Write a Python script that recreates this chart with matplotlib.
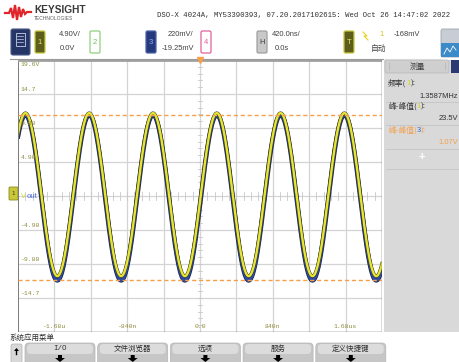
import numpy as np
import matplotlib.pyplot as plt
import matplotlib.patheffects as pe
from matplotlib.patches import Rectangle, FancyBboxPatch, Polygon

# ── screen readout values ──
ch1_scale = 4.90          # V/div
ch1_offset = 0.0
ch3_scale = 0.220         # V/div
ch3_offset = -0.01925
time_scale = 420e-9       # s/div
trig_level = "-168mV"

ch1_freq = 1.3587e6       # Hz
ch1_vpp = 23.5            # V
ch1_mean = 0.2            # V, estimated from the trace
ch3_vpp = 1.07            # V
ch3_mean = -0.030         # V, estimated from the trace
peak_time = 194e-9        # s, first crest right of centre

y_tick_vals = [19.6, 14.7, 9.8, 4.9, -4.9, -9.8, -14.7]
y_tick_text = ["19.6V", "14.7", "9.80", "4.90", "-4.90", "-9.80", "-14.7"]
x_tick_vals = [-1.68e-6, -0.84e-6, 0.0, 0.84e-6, 1.68e-6]
x_tick_text = ["-1.68u", "-840n", "0.0", "840n", "1.68us"]

meas_names = ["频率", "峰-峰值", "峰-峰值"]
meas_chans = ["1", "1", "3"]
meas_values = ["1.3587MHz", "23.5V", "1.07V"]
menu_items = ["I/O", "文件浏览器", "选项", "服务", "定义快捷键"]

CJK = ["Noto Sans CJK SC", "DejaVu Sans"]
MONO = "Liberation Mono"
SANS = "Liberation Sans"
OLIVE = "#8c8c3c"
ORANGE = "#f5a04a"
CHAN_COLORS = {"1": "#d8d020", "3": "#3a64d8"}

W, H = 460, 362
fig = plt.figure(figsize=(W / 100, H / 100), dpi=100)

# overlay axes in pixel coordinates for the instrument chrome
ov = fig.add_axes([0, 0, 1, 1])
ov.set_xlim(0, W)
ov.set_ylim(H, 0)
ov.axis("off")

# ── header ──
logo_x = [5, 9, 11, 13, 15, 17, 19, 21, 23, 25, 27, 31]
logo_y = [13, 13, 8, 18, 5, 20, 7, 17, 9, 14, 12, 12]
ov.plot(logo_x, logo_y, color="#e0262a", lw=1.6, solid_joinstyle="miter")
ov.text(34, 10, "KEYSIGHT", fontsize=7.3, fontweight="bold", color="#3a3a3a",
        family=SANS, va="center")
ov.text(34, 19, "TECHNOLOGIES", fontsize=3.6, color="#606060", family=SANS, va="center")
ov.text(157, 16, "DSO-X 4024A, MY53390393, 07.20.2017102615: Wed Oct 26 14:47:02 2022",
        fontsize=5.25, family=MONO, color="#303030", va="center")

# menu icon
ov.add_patch(FancyBboxPatch((11, 29), 19, 26, boxstyle="round,pad=0,rounding_size=2",
                            fc="#243566", ec="#4a5a8a", lw=0.8))
ov.add_patch(Rectangle((16, 33), 9, 13, fc="none", ec="#c8d0e8", lw=0.6))
for yy in (36, 39, 42):
    ov.plot([17.5, 23.5], [yy, yy], color="#c8d0e8", lw=0.5)


def badge(x, label, fc, ec, tc):
    ov.add_patch(FancyBboxPatch((x, 31), 10, 22, boxstyle="round,pad=0,rounding_size=1.5",
                                fc=fc, ec=ec, lw=0.9))
    ov.text(x + 5, 42, label, fontsize=5.5, color=tc, ha="center", va="center", family=SANS)


badge(35, "1", "#5e5e1c", "#c8c840", "#e8e860")
badge(90, "2", "white", "#8ed07c", "#6cbf5a")
badge(146, "3", "#253a7c", "#4a62a8", "#8fb0ff")
badge(201, "4", "white", "#e2609c", "#e2609c")
badge(257, "H", "#c8c8c8", "#a0a0a0", "#404040")
badge(344, "T", "#5e5e1c", "#c8c840", "#e8e860")

ro = dict(fontsize=5.4, color="#404040", family=SANS, ha="center", va="center")
ov.text(70, 35, f"{ch1_scale:.2f}V/", **ro)
ov.text(67, 49, f"{ch1_offset:.1f}V", **ro)
ov.text(180, 35, f"{ch3_scale * 1000:.0f}mV/", **ro)
ov.text(178, 49, f"{ch3_offset * 1000:.2f}mV", **ro)
ov.text(286, 35, f"{time_scale * 1e9:.1f}ns/", **ro)
ov.text(282, 49, "0.0s", **ro)
ov.plot([363, 367, 364, 368], [32, 36, 36, 40], color="#e8d020", lw=0.8)
ov.text(382, 35, "1", fontsize=5.4, color="#d8c020", family=SANS, ha="center", va="center")
ov.text(407, 35, trig_level, **ro)
ov.text(379, 49, "自动", fontsize=5.6, color="#404040", family=CJK, ha="center", va="center")

ov.add_patch(FancyBboxPatch((441, 29), 22, 28, boxstyle="round,pad=0,rounding_size=2",
                            fc="#c8ccd4", ec="#a0a4b0", lw=0.6))
ov.add_patch(Rectangle((441, 43), 22, 14, fc="#3d8ac8", ec="none"))
ov.plot([444, 447, 450, 453, 456], [54, 48, 52, 46, 50], color="white", lw=0.6)
ov.plot([10, 383], [58.5, 58.5], color="#9a9a9a", lw=0.8)
ov.plot([385, 440], [58.5, 58.5], color="#d8d8d8", lw=0.8)

# ── measurement panel ──
ov.add_patch(Rectangle((384, 60), 76, 272, fc="#d9d9d9", ec="none"))
ov.add_patch(FancyBboxPatch((385, 60), 64, 13, boxstyle="round,pad=0,rounding_size=2",
                            fc="#cfcfcf", ec="#b8b8b8", lw=0.5))
ov.add_patch(Rectangle((451, 60), 9, 13, fc="#2a3a70", ec="none"))
ov.text(417, 66.5, "测量", fontsize=5.6, family=CJK, color="#404040", ha="center", va="center")
for xx in (389, 445):
    ov.plot([xx, xx], [63, 70], color="#a0a0a0", lw=0.6, ls=(0, (1, 1)))
name_y = [83, 106, 130]
val_y = [96, 119, 143]
colors = ["#303030", "#303030", ORANGE]
for nm, ch, vl, ny, vy, c in zip(meas_names, meas_chans, meas_values, name_y, val_y, colors):
    t0 = ov.text(388, ny, nm + "(", fontsize=5.6, family=CJK, color=c, va="center")
    t1 = ov.annotate(ch, xy=(1, 0), xycoords=t0, fontsize=5.6, family=CJK,
                     color=CHAN_COLORS[ch], va="bottom")
    ov.annotate("):", xy=(1, 0), xycoords=t1, fontsize=5.6, family=CJK, color=c,
                va="bottom")
    ov.text(458, vy, vl, fontsize=5.4, family=SANS, color=c, va="center", ha="right")
    ov.plot([386, 460], [vy + 6, vy + 6], color="#c4c4c4", lw=0.6)
ov.text(422, 157, "+", fontsize=8, color="white", family=SANS, ha="center", va="center",
        fontweight="bold")
ov.plot([386, 460], [169, 169], color="#c4c4c4", lw=0.6)

# ── bottom menu ──
ov.text(10, 338, "系统应用菜单", fontsize=5.4, family=CJK, color="#303030", va="center")
ov.add_patch(FancyBboxPatch((11, 344), 11, 22, boxstyle="round,pad=0,rounding_size=2",
                            fc="#d8d8d8", ec="#b0b0b0", lw=0.5))
ov.add_patch(Polygon([[14, 351], [16.5, 348], [19, 351]], closed=True, fc="black", ec="none"))
ov.plot([16.5, 16.5], [350, 354], color="black", lw=1)
for i, item in enumerate(menu_items):
    x0 = 25 + i * 72.7
    ov.add_patch(FancyBboxPatch((x0, 343), 70, 25, boxstyle="round,pad=0,rounding_size=4",
                                fc="#c6c6c6", ec="#b4b4b4", lw=0.5))
    ov.add_patch(FancyBboxPatch((x0 + 2, 344), 66, 10, boxstyle="round,pad=0,rounding_size=4",
                                fc="#dcdcdc", ec="none"))
    fam = [MONO] if item == "I/O" else CJK
    ov.text(x0 + 35, 349, item, fontsize=5.4, family=fam, color="#303030",
            ha="center", va="center")
    cx = x0 + 35
    ov.add_patch(Polygon([[cx - 2, 355], [cx + 2, 355], [cx + 2, 358], [cx + 5, 358],
                          [cx, 362], [cx - 5, 358], [cx - 2, 358]], closed=True,
                         fc="black", ec="none"))

# ── graticule ──
px_l, px_t, px_r, px_b = 18, 60, 382, 332
ax = fig.add_axes([px_l / W, 1 - px_b / H, (px_r - px_l) / W, (px_b - px_t) / H])
ax.set_zorder(2)
x_half = 5 * time_scale
y_half = 4 * ch1_scale
ax.set_xlim(-x_half, x_half)
ax.set_ylim(-y_half, y_half)
ax.set_facecolor("white")
ax.set_xticks([])
ax.set_yticks([])
for s in ax.spines.values():
    s.set_visible(False)

grid_c = "#d4d4d4"
for k in range(-4, 5):
    ax.axvline(k * time_scale, color=grid_c, lw=0.9, zorder=1)
for k in range(-3, 4):
    ax.axhline(k * ch1_scale, color=grid_c, lw=0.9, zorder=1)
# minor ticks along the centre axes
for k in np.arange(-25, 26):
    ax.plot([k * time_scale / 5] * 2, [-0.12 * ch1_scale, 0.12 * ch1_scale],
            color="#c8c8c8", lw=0.6, zorder=1)
for k in np.arange(-20, 21):
    ax.plot([-0.06 * time_scale, 0.06 * time_scale], [k * ch1_scale / 5] * 2,
            color="#c8c8c8", lw=0.6, zorder=1)

# borders
ax.axvline(-x_half, color="#7a7a7a", lw=1.4, zorder=5)
ax.axhline(y_half, color="#a0a0a0", lw=2.0, zorder=5)
ax.axhline(-y_half, color="#505050", lw=1.0, zorder=5)
ax.axvline(x_half, color="#505050", lw=1.0, zorder=5)

# ── traces ──
t = np.linspace(-x_half, x_half, 2500)
phase = np.cos(2 * np.pi * ch1_freq * (t - peak_time))
ch1 = ch1_mean + ch1_vpp / 2 * phase
ch3_volts = ch3_mean + ch3_vpp / 2 * phase
ch3 = (ch3_volts - ch3_offset) / ch3_scale * ch1_scale

ax.plot(t, ch3, color="#2d4aa6", lw=2.3, zorder=3,
        path_effects=[pe.Stroke(linewidth=3.3, foreground="#1a2040"), pe.Normal()])
ax.plot(t, ch1, color="#e6e632", lw=1.7, zorder=4,
        path_effects=[pe.Stroke(linewidth=2.4, foreground="#3a3a1a"), pe.Normal()])

# ch3 peak-to-peak cursors
ch3_hi = (ch3_mean + ch3_vpp / 2 - ch3_offset) / ch3_scale * ch1_scale
ch3_lo = (ch3_mean - ch3_vpp / 2 - ch3_offset) / ch3_scale * ch1_scale
for yv in (ch3_hi, ch3_lo):
    ax.axhline(yv, color=ORANGE, lw=1.0, ls=(0, (3, 2)), zorder=6)

# trigger position marker
ax.plot([0], [y_half], marker="v", color=ORANGE, markersize=4, zorder=7, clip_on=False)

# scale labels
ytr = ax.get_yaxis_transform()
for v, s in zip(y_tick_vals, y_tick_text):
    va = "top" if v == y_tick_vals[0] else "bottom"
    ax.text(0.008, v + (-0.3 if va == "top" else 0.25), s, transform=ytr, fontsize=4.6,
            family=MONO, color=OLIVE, va=va, ha="left", zorder=8)
xtr = ax.get_xaxis_transform()
for v, s in zip(x_tick_vals, x_tick_text):
    ax.text(v, 0.01, s, transform=xtr, fontsize=4.6, family=MONO, color=OLIVE,
            ha="center", va="bottom", zorder=8)

# channel 1 ground marker and label
ov.add_patch(FancyBboxPatch((9, 187), 9, 13, boxstyle="round,pad=0,rounding_size=1",
                            fc="#c8c83a", ec="#8a8a20", lw=0.6, zorder=9))
ov.text(13.5, 193.5, "1", fontsize=4.5, color="#404010", ha="center", va="center",
        family=SANS, zorder=10)
ax.text(0.008, ch1_offset, "V", transform=ytr, fontsize=5.6, family=SANS,
        color="#d8d840", va="center", zorder=8)
ax.text(0.024, ch1_offset, "out", transform=ytr, fontsize=5.6, family=SANS,
        color="#4a6ad8", va="center", zorder=8)

fig.savefig("out.png", dpi=100)
